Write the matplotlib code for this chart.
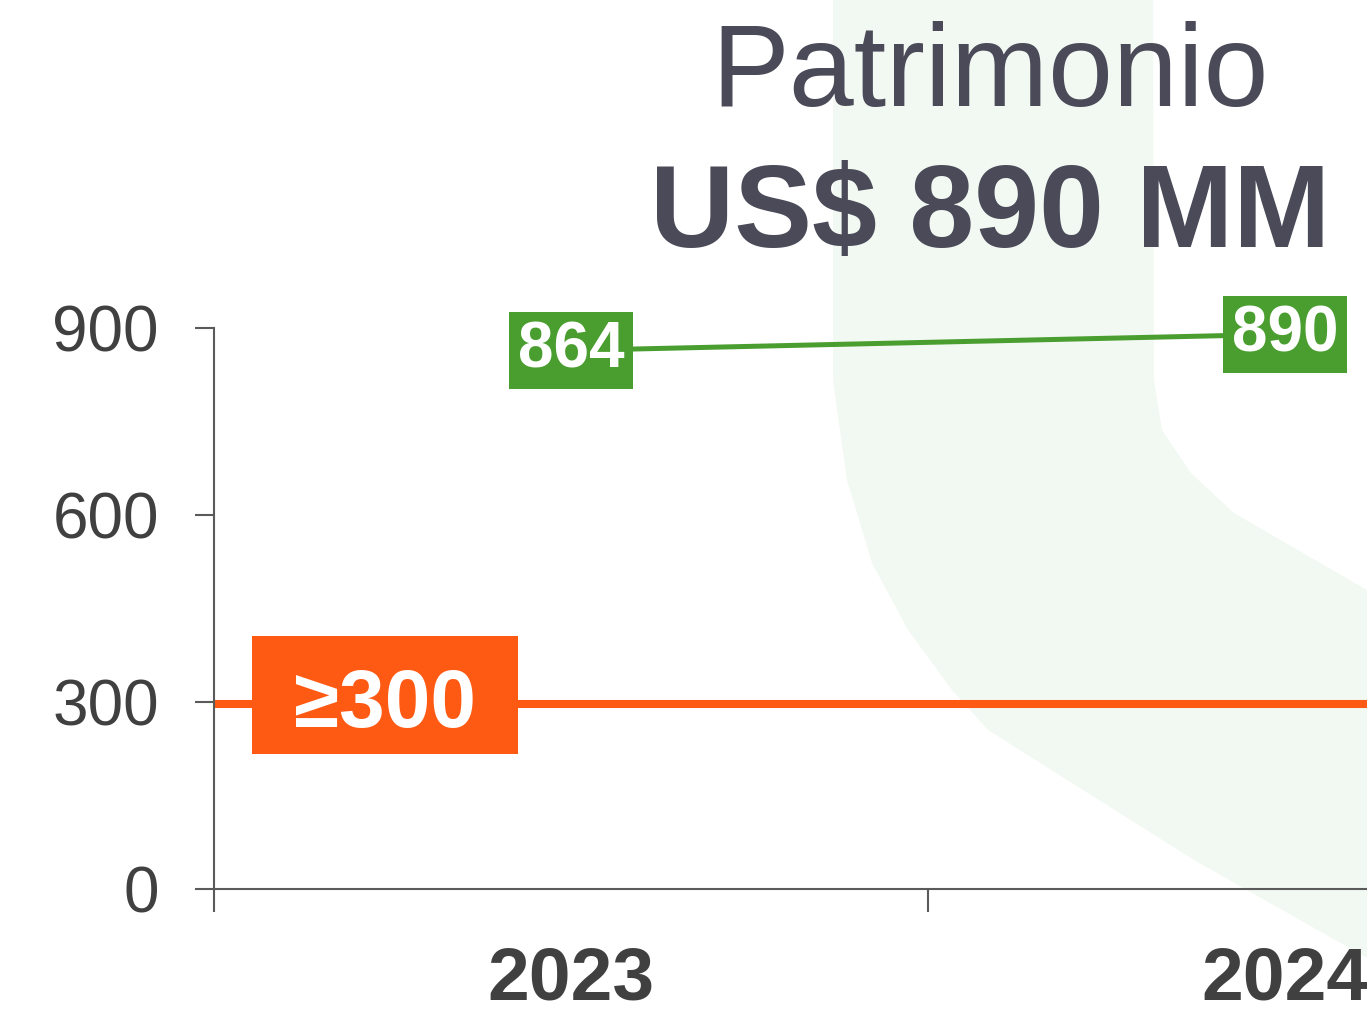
import numpy as np
import matplotlib.pyplot as plt
from matplotlib.patches import Polygon, Rectangle

years = ['2023', '2024']
patrimonio = [864, 890]
minimo = 300
minimo_label = '\u2265300'
yticks = [0, 300, 600, 900]
title1 = 'Patrimonio'
title2 = 'US$ 890 MM'

W, H = 1367, 1010
green = '#4a9e2f'
orange = '#ff5a14'
dark = '#404040'
titlec = '#4a4a58'
axc = '#5a5a5a'
fam = ['Liberation Sans', 'DejaVu Sans']

plt.rcParams['font.family'] = fam

fig = plt.figure(figsize=(W / 100, H / 100), dpi=100)
fig.patch.set_facecolor('white')

# light green background band (decoration, pixel coords)
band = [(833, 0), (833, 380), (834, 388), (847, 480), (872, 563), (908, 630),
        (952, 690), (988, 730), (1194, 860), (1367, 958), (1367, 590),
        (1234, 513), (1191, 473), (1162, 430), (1154, 380), (1153, 0)]
band = [(x / W, 1 - y / H) for x, y in band]
fig.patches.append(Polygon(band, closed=True, transform=fig.transFigure,
                           facecolor='#f2f9f2', edgecolor='none', zorder=0))

# axes spans x from -0.5 to 1.5, right part falls off the figure
ax = fig.add_axes([214 / W, 1 - 889 / H, 1428 / W, 561 / H])
ax.set_zorder(1)
ax.patch.set_alpha(0)
ax.set_xlim(-0.5, 1.5)
ax.set_ylim(0, 900)

x = np.arange(len(years))

ax.axhline(minimo - 4, color=orange, lw=5.8, zorder=2)
ax.plot(x, patrimonio, color=green, lw=3.6, zorder=3, clip_on=False)

for xi, v in zip(x, patrimonio):
    ax.text(xi, v, str(v), ha='center', va='center', color='white',
            fontsize=46, fontweight='bold', zorder=5, clip_on=False,
            bbox=dict(boxstyle='square,pad=0.13', facecolor=green, edgecolor='none'))

# label box for the minimum
ax.add_patch(Rectangle((-0.447, 217), 0.373, 189, facecolor=orange,
                       edgecolor='none', zorder=4))
ax.text(-0.26, 260, minimo_label, ha='center', va='baseline', color='white',
        fontsize=59, fontweight='bold', zorder=5)

for s in ['top', 'right']:
    ax.spines[s].set_visible(False)
for s in ['left', 'bottom']:
    ax.spines[s].set_color(axc)
    ax.spines[s].set_linewidth(1.5)

ax.set_yticks(yticks)
ax.set_yticklabels([str(t) for t in yticks])
ax.tick_params(axis='y', length=13.7, width=1.5, color=axc, labelsize=46,
               labelcolor=dark, pad=26)

ax.set_xticks(x)
ax.set_xticklabels(years, fontweight='bold')
ax.tick_params(axis='x', which='major', length=0, labelsize=54,
               labelcolor=dark, pad=41)
ax.set_xticks([-0.5, 0.5, 1.5], minor=True)
ax.tick_params(axis='x', which='minor', length=16.5, width=1.5, color=axc)

fig.text(990 / W, 1 - 106 / H, title1, ha='center', va='baseline',
         fontsize=84, color=titlec)
fig.text(990 / W, 1 - 247 / H, title2, ha='center', va='baseline',
         fontsize=84, fontweight='bold', color=titlec)

fig.savefig('out.png', dpi=100)
